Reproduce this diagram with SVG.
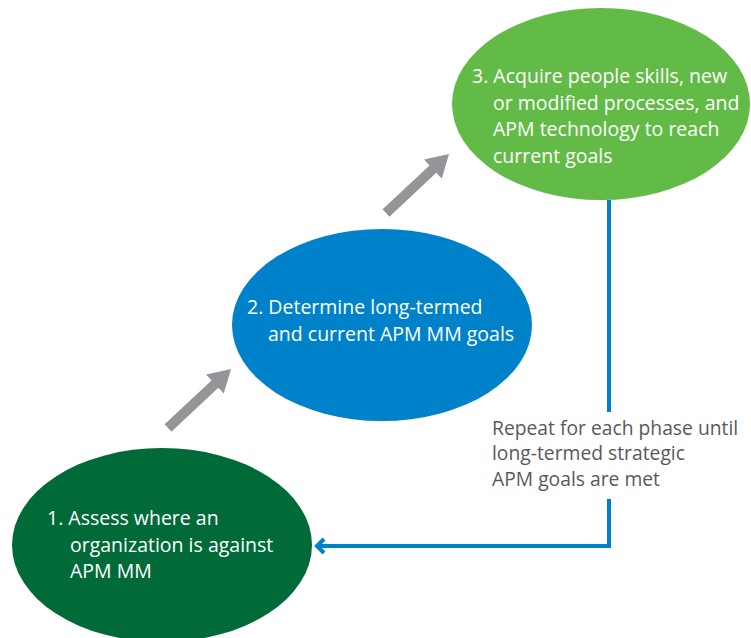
<svg xmlns="http://www.w3.org/2000/svg" width="751" height="638" viewBox="0 0 751 638">
<style>
.t{font-family:"Open Sans","Noto Sans","Liberation Sans",sans-serif;font-size:19.5px;fill:#ffffff}
.g{font-family:"Open Sans","Noto Sans","Liberation Sans",sans-serif;font-size:19.3px;fill:#58595b}
.arr{fill:#939598}
.conn{fill:none;stroke:#0082ca;stroke-width:4}
</style>
<defs>
<polygon id="grayArrow" points="171.4,431.7 164.6,424.3 211.5,380.4 206.0,374.5 231,369 223.8,393.5 218.3,387.7"/>
</defs>
<rect width="751" height="638" fill="#ffffff"/>
<g id="node3">
<ellipse cx="601" cy="104" rx="149" ry="96" fill="#62bb46"/>
<text class="t" x="472" y="83">3. Acquire people skills, new</text>
<text class="t" x="493" y="110">or modified processes, and</text>
<text class="t" x="493" y="136">APM technology to reach</text>
<text class="t" x="493" y="163">current goals</text>
</g>
<g id="node2">
<ellipse cx="382" cy="325" rx="150" ry="96" fill="#0082ca"/>
<text class="t" x="247" y="314">2. Determine long-termed</text>
<text class="t" x="268" y="341">and current APM MM goals</text>
</g>
<g id="node1">
<ellipse cx="162" cy="545" rx="150" ry="97" fill="#006a38"/>
<text class="t" x="47" y="525">1. Assess where an</text>
<text class="t" x="70" y="552">organization is against</text>
<text class="t" x="70" y="578">APM MM</text>
</g>
<g id="connectors">
<use href="#grayArrow" class="arr"/>
<use href="#grayArrow" class="arr" transform="translate(218,-215)"/>
<path class="conn" d="M609,200 V412 M609,499 V546 H318"/>
<path class="conn" d="M324,539 L317,546 L324,553"/>
</g>
<g id="label">
<text class="g" x="492" y="435">Repeat for each phase until</text>
<text class="g" x="492" y="460">long-termed strategic</text>
<text class="g" x="492" y="486">APM goals are met</text>
</g>
</svg>
